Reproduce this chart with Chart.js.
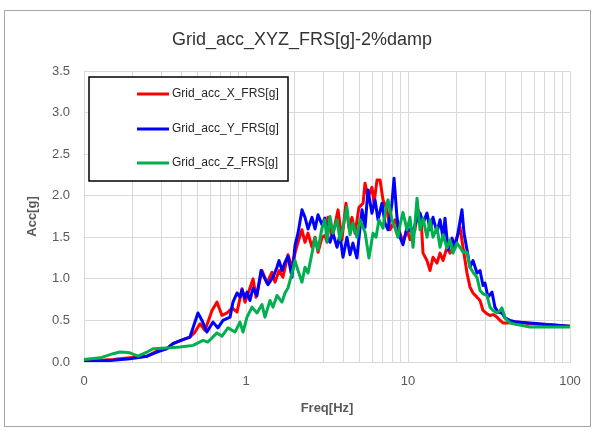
<!DOCTYPE html>
<html>
<head>
<meta charset="utf-8">
<script src="https://cdn.jsdelivr.net/npm/chart.js@4"></script>
<style>
  html, body { margin: 0; padding: 0; background: #ffffff; }
  #wrap { width: 595px; height: 433px; }
</style>
</head>
<body>
<div id="wrap"><canvas id="c" width="595" height="433"></canvas></div>
<script>
const chartTitle = 'Grid_acc_XYZ_FRS[g]-2%damp';
const seriesNames = ['Grid_acc_X_FRS[g]', 'Grid_acc_Y_FRS[g]', 'Grid_acc_Z_FRS[g]'];
const seriesColors = ['#FF0000', '#0000FF', '#00B050'];

const xTickValues = [0.1,0.2,0.3,0.4,0.5,0.6,0.7,0.8,0.9,1,2,3,4,5,6,7,8,9,10,20,30,40,50,60,70,80,90,100];
const xMajorTicks = [0.1, 1, 10, 100];
const xMajorLabels = ['0', '1', '10', '100'];

const freqX = [0.1,0.126,0.151,0.192,0.245,0.282,0.325,0.354,0.408,0.451,0.484,0.52,0.558,0.617,0.662,0.711,0.764,0.82,0.88,0.945,0.986,1.029,1.105,1.153,1.255,1.348,1.447,1.51,1.6,1.69,1.816,1.923,2.006,2.094,2.216,2.313,2.414,2.556,2.667,2.783,2.945,3.07,3.162,3.208,3.395,3.54,3.70,3.91,4.14,4.32,4.51,4.71,4.98,5.28,5.43,5.66,5.99,6.17,6.44,6.72,7.01,7.42,7.74,8.31,8.93,9.31,9.86,10.29,11.04,11.53,12.03,12.38,13.10,13.68,14.27,15.10,15.77,16.45,17.41,18.17,18.96,20.06,20.94,21.85,23.13,24.14,25.19,26.66,27.83,29.04,30.73,32.07,33.5,35.4,37.0,38.6,40.8,47.1,56.6,72.1,100];
const accX = [0.01,0.02,0.03,0.05,0.07,0.13,0.16,0.22,0.27,0.30,0.36,0.46,0.38,0.62,0.72,0.56,0.59,0.65,0.60,0.88,0.72,0.82,1.0,0.78,1.1,0.95,1.08,0.96,1.1,1.02,1.29,1.14,1.31,1.44,1.59,1.44,1.55,1.38,1.5,1.32,1.5,1.52,1.44,1.74,1.5,1.65,1.83,1.47,1.91,1.61,1.74,1.55,1.86,1.91,2.15,1.98,2.1,1.91,2.19,2.19,1.95,1.83,1.59,1.71,1.55,1.44,1.59,1.47,1.59,1.83,1.74,1.31,1.22,1.1,1.26,1.19,1.31,1.22,1.38,1.31,1.38,1.5,1.62,1.38,1.07,0.9,0.83,0.78,0.74,0.62,0.58,0.56,0.57,0.54,0.5,0.47,0.47,0.48,0.46,0.45,0.43];

const freqY = [0.1,0.126,0.151,0.192,0.245,0.282,0.325,0.354,0.408,0.451,0.505,0.535,0.574,0.626,0.671,0.721,0.797,0.831,0.88,0.918,0.945,0.986,1.014,1.058,1.105,1.169,1.238,1.31,1.367,1.468,1.553,1.6,1.668,1.741,1.816,1.923,2.006,2.094,2.216,2.313,2.414,2.556,2.667,2.783,2.945,3.07,3.208,3.30,3.44,3.65,3.80,3.97,4.20,4.385,4.57,4.84,5.06,5.20,5.43,5.66,5.99,6.26,6.53,6.91,7.21,7.53,7.96,8.20,8.55,8.93,9.31,9.86,10.59,11.37,11.86,12.38,13.10,13.68,14.27,15.10,15.77,16.45,16.92,17.66,18.70,19.51,20.35,21.54,22.17,23.13,24.14,25.19,26.66,27.83,29.04,29.87,31.17,33.0,34.4,35.9,38.0,39.7,42.6,47.1,56.6,72.1,100];
const accY = [0.0,0.01,0.02,0.04,0.07,0.12,0.16,0.22,0.27,0.30,0.59,0.50,0.36,0.48,0.41,0.50,0.54,0.72,0.83,0.78,0.87,0.77,0.84,0.74,0.89,0.80,1.1,1.0,0.93,1.02,1.14,1.22,1.1,1.2,1.27,1.02,1.4,1.55,1.83,1.74,1.6,1.74,1.6,1.77,1.65,1.73,1.5,1.44,1.55,1.38,1.53,1.26,1.5,1.29,1.43,1.25,1.62,1.83,1.62,2.07,1.79,1.95,1.71,1.91,1.67,1.59,1.91,2.21,1.74,1.5,1.41,1.62,1.55,1.72,1.79,1.67,1.79,1.59,1.74,1.56,1.71,1.49,1.73,1.35,1.49,1.38,1.55,1.83,1.55,1.35,1.14,1.22,1.07,1.10,0.92,0.95,0.78,0.84,0.66,0.6,0.59,0.53,0.5,0.48,0.47,0.45,0.43];

const freqZ = [0.1,0.126,0.151,0.167,0.192,0.215,0.245,0.267,0.34,0.391,0.471,0.543,0.582,0.662,0.711,0.774,0.855,0.918,0.958,1.014,1.089,1.169,1.255,1.31,1.406,1.468,1.553,1.668,1.741,1.816,1.923,2.006,2.094,2.216,2.313,2.414,2.556,2.667,2.783,2.945,3.07,3.162,3.30,3.44,3.65,3.80,3.97,4.20,4.385,4.57,4.84,5.06,5.43,5.74,6.08,6.35,6.62,7.01,7.32,7.53,7.96,8.31,8.67,8.93,9.31,9.86,10.29,10.74,11.37,11.86,12.38,13.10,13.68,14.27,15.10,15.77,16.45,17.41,18.17,18.96,20.06,20.94,21.85,23.13,24.14,25.19,26.66,27.83,29.04,30.73,32.07,33.5,35.4,37.0,38.0,39.7,42.6,47.1,56.6,100];
const accZ = [0.03,0.05,0.10,0.12,0.11,0.07,0.12,0.16,0.17,0.18,0.20,0.26,0.24,0.35,0.31,0.41,0.36,0.48,0.36,0.54,0.66,0.59,0.69,0.54,0.74,0.66,0.8,0.72,0.83,0.89,1.07,1.22,1.1,0.96,1.14,1.07,1.31,1.49,1.35,1.61,1.71,1.45,1.75,1.55,1.71,1.47,1.62,1.86,1.53,1.67,1.5,1.71,1.56,1.25,1.55,1.5,1.71,1.61,1.86,1.95,1.71,1.61,1.5,1.65,1.8,1.59,1.74,1.38,1.97,1.59,1.73,1.5,1.71,1.5,1.62,1.38,1.53,1.37,1.47,1.31,1.43,1.38,1.32,1.32,1.14,1.08,1.02,0.86,0.82,0.80,0.66,0.62,0.59,0.62,0.65,0.53,0.47,0.45,0.42,0.42];

const FONT = "'Liberation Sans', Arial, sans-serif";
Chart.defaults.font.family = FONT;

function toPoints(xs, ys) { return xs.map((x, i) => ({ x: x, y: ys[i] })); }

const chromePlugin = {
  id: 'chrome',
  beforeDraw(chart) {
    const ctx = chart.ctx;
    ctx.save();
    ctx.fillStyle = '#ffffff';
    ctx.fillRect(0, 0, chart.width, chart.height);
    ctx.strokeStyle = '#a6a6a6';
    ctx.lineWidth = 1;
    ctx.strokeRect(4.5, 10.5, 586, 416);
    ctx.restore();
  },
  afterDraw(chart) {
    const ctx = chart.ctx;
    ctx.save();
    ctx.fillStyle = '#333333';
    ctx.font = '18px ' + FONT;
    ctx.textAlign = 'center';
    ctx.textBaseline = 'middle';
    ctx.fillText(chartTitle, 302, 40);
    // legend box
    const bx = 89, by = 77, bw = 199, bh = 104;
    ctx.fillStyle = '#ffffff';
    ctx.fillRect(bx, by, bw, bh);
    ctx.strokeStyle = '#000000';
    ctx.lineWidth = 1.5;
    ctx.strokeRect(bx, by, bw, bh);
    const rows = [94, 129, 163];
    ctx.font = '12px ' + FONT;
    ctx.textAlign = 'left';
    ctx.textBaseline = 'middle';
    chart.data.datasets.forEach((ds, i) => {
      const idx = ds.legendIndex;
      const y = rows[idx];
      ctx.strokeStyle = ds.borderColor;
      ctx.lineWidth = 3;
      ctx.beginPath();
      ctx.moveTo(137, y);
      ctx.lineTo(169, y);
      ctx.stroke();
      ctx.fillStyle = '#262626';
      ctx.fillText(ds.label, 172, y);
    });
    ctx.restore();
  }
};

const datasets = [
  { label: seriesNames[0], legendIndex: 0, data: toPoints(freqX, accX), borderColor: seriesColors[0], order: 3 },
  { label: seriesNames[1], legendIndex: 1, data: toPoints(freqY, accY), borderColor: seriesColors[1], order: 2 },
  { label: seriesNames[2], legendIndex: 2, data: toPoints(freqZ, accZ), borderColor: seriesColors[2], order: 1 }
].map(d => Object.assign(d, { borderWidth: 3, pointRadius: 0, fill: false, tension: 0, borderJoinStyle: 'round' }));

new Chart(document.getElementById('c'), {
  type: 'line',
  data: { datasets: datasets },
  options: {
    responsive: false,
    animation: false,
    layout: { padding: { left: 0, right: 25, top: 71, bottom: 0 } },
    plugins: { legend: { display: false }, title: { display: false }, tooltip: { enabled: false } },
    scales: {
      x: {
        type: 'logarithmic',
        min: 0.1, max: 100,
        afterBuildTicks(scale) { scale.ticks = xTickValues.map(v => ({ value: v })); },
        afterFit(scale) { scale.height = 71; },
        ticks: {
          autoSkip: false, maxRotation: 0, padding: 12,
          color: '#595959', font: { size: 13 },
          callback(v) { const k = xMajorTicks.indexOf(v); return k >= 0 ? xMajorLabels[k] : ''; }
        },
        grid: { color: '#d9d9d9', lineWidth: 1, drawTicks: false },
        border: { color: '#d9d9d9' },
        title: { display: true, text: 'Freq[Hz]', color: '#595959', font: { size: 13, weight: 'bold' }, padding: { top: 0, bottom: 17 } }
      },
      y: {
        min: 0, max: 3.5,
        afterFit(scale) { scale.width = 84; },
        ticks: { stepSize: 0.5, padding: 14, color: '#595959', font: { size: 13 }, callback(v) { return Number(v).toFixed(1); } },
        grid: { color: '#d9d9d9', lineWidth: 1, drawTicks: false },
        border: { color: '#d9d9d9' },
        title: { display: true, text: 'Acc[g]', color: '#595959', font: { size: 13, weight: 'bold' }, padding: { top: 25, bottom: 0 } }
      }
    }
  },
  plugins: [chromePlugin]
});
</script>
</body>
</html>
